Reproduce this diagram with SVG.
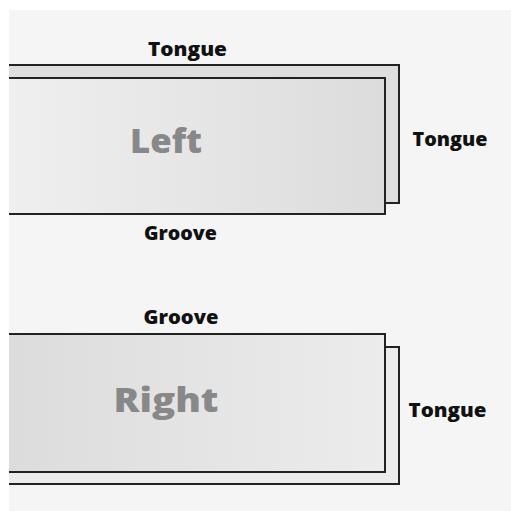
<svg xmlns="http://www.w3.org/2000/svg" width="511" height="511" viewBox="0 0 511 511">
  <defs>
    <linearGradient id="gLeft" x1="0" y1="0" x2="1" y2="0">
      <stop offset="0" stop-color="#efefef"/>
      <stop offset="1" stop-color="#dcdcdc"/>
    </linearGradient>
    <linearGradient id="gRight" x1="0" y1="0" x2="1" y2="0">
      <stop offset="0" stop-color="#dcdcdc"/>
      <stop offset="1" stop-color="#ececec"/>
    </linearGradient>
    <style>
      .edge { fill: none; stroke: #222222; stroke-width: 2; }
      .lbl { font-family: "Open Sans", "DejaVu Sans", sans-serif; font-weight: 800; font-size: 19.5px; fill: #111111; text-anchor: middle; }
      .big { font-family: "Open Sans", "DejaVu Sans", sans-serif; font-weight: 800; font-size: 34px; fill: #888888; text-anchor: middle; }
    </style>
  </defs>
  <rect x="0" y="0" width="511" height="511" fill="#ffffff"/>
  <rect x="9" y="10" width="502" height="501" fill="#f5f5f5"/>

  <g id="left-board">
    <rect x="9" y="65" width="390" height="138" fill="#dedede"/>
    <path class="edge" d="M9,65 H399 V203 H385"/>
    <rect x="9" y="78" width="376" height="136" fill="url(#gLeft)"/>
    <path class="edge" d="M9,78 H385 V214 H9"/>
    <text class="big" x="166" y="153" textLength="72" lengthAdjust="spacingAndGlyphs">Left</text>
  </g>

  <g id="right-board">
    <rect x="9" y="347" width="390" height="137" fill="#ececec"/>
    <path class="edge" d="M385,347 H399 V484 H9"/>
    <rect x="9" y="334" width="376" height="138" fill="url(#gRight)"/>
    <path class="edge" d="M9,334 H385 V472 H9"/>
    <text class="big" x="166" y="412" textLength="105" lengthAdjust="spacingAndGlyphs">Right</text>
  </g>

  <g id="labels">
    <text class="lbl" x="187.5" y="56" textLength="79" lengthAdjust="spacingAndGlyphs">Tongue</text>
    <text class="lbl" x="450" y="146" textLength="75" lengthAdjust="spacingAndGlyphs">Tongue</text>
    <text class="lbl" x="180.5" y="240" textLength="73" lengthAdjust="spacingAndGlyphs">Groove</text>
    <text class="lbl" x="181" y="324" textLength="75" lengthAdjust="spacingAndGlyphs">Groove</text>
    <text class="lbl" x="447.5" y="417" textLength="78" lengthAdjust="spacingAndGlyphs">Tongue</text>
  </g>
</svg>
